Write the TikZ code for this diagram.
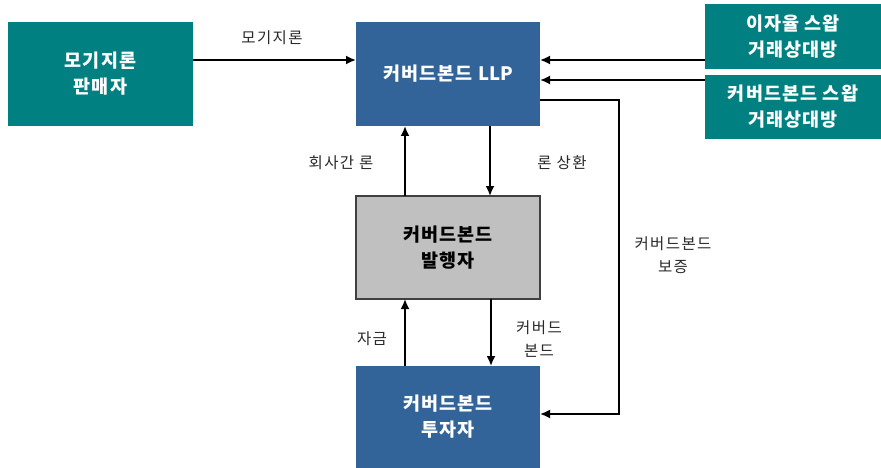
\documentclass[tikz,border=0pt]{standalone}
\usepackage{fontspec}
\setmainfont{Noto Sans CJK KR}
\newfontfamily\boxfont[LetterSpace=6]{Noto Sans CJK KR}
\newfontfamily\lblfont[LetterSpace=9]{Noto Sans CJK KR}
\usetikzlibrary{arrows.meta}
\definecolor{teal1}{RGB}{0,128,128}
\definecolor{blue1}{RGB}{51,100,153}
\definecolor{gray1}{RGB}{192,192,192}
\definecolor{edge1}{RGB}{64,64,64}
\definecolor{txt1}{RGB}{40,40,40}
\tikzset{
  boxt/.style={fill=teal1, text=white, font=\boxfont\fontsize{18.5}{26}\selectfont\bfseries, align=center, inner sep=0pt},
  boxb/.style={fill=blue1, text=white, font=\boxfont\fontsize{18.5}{26}\selectfont\bfseries, align=center, inner sep=0pt},
  boxg/.style={fill=gray1, draw=edge1, line width=1.5pt, text=black, font=\boxfont\fontsize{18.5}{26}\selectfont\bfseries, align=center, inner sep=0pt},
  lbl/.style={text=txt1, font=\lblfont\fontsize{15.5}{23}\selectfont, align=center, inner sep=0pt},
  arr/.style={line width=1.8pt, -{Latex[length=10pt,width=9pt]}}
}
\begin{document}
\begin{tikzpicture}[x=1pt,y=-1pt]
\useasboundingbox (0,0) rectangle (881,468);
\path[boxt] (8,22) rectangle (193,126);
\node[boxt] (seller) at (100.5,74) {모기지론\\판매자};
\path[boxb] (356,22) rectangle (540,126);
\node[boxb] (llp) at (448,74) {커버드본드 {\fontsize{18.5}{26}\selectfont\bfseries\mdseries\bfseries\normalfont\fontsize{18.5}{26}\selectfont\bfseries LLP}};
\path[boxt] (705,4) rectangle (881,69);
\node[boxt] (irs) at (793,36.5) {이자율 스왑\\거래상대방};
\path[boxt] (705,75) rectangle (881,139);
\node[boxt] (cbs) at (793,107) {커버드본드 스왑\\거래상대방};
\path[boxg] (356,196) rectangle (540,299);
\node[boxg, draw=none, fill=none] (iss) at (448,247.5) {커버드본드\\발행자};
\path[boxb] (356,366) rectangle (540,468);
\node[boxb] (inv) at (448,417) {커버드본드\\투자자};

\coordinate (s1) at (193,60);
\coordinate (l1) at (356,60);
\coordinate (r1) at (705,60);
\coordinate (l2) at (540,60);
\coordinate (r2) at (705,80);
\coordinate (l3) at (540,80);
\coordinate (l4) at (540,100);
\coordinate (c1) at (619,100);
\coordinate (c2) at (619,414);
\coordinate (i1) at (540,414);
\coordinate (a1) at (405,196);
\coordinate (a2) at (405,126);
\coordinate (b1) at (490,126);
\coordinate (b2) at (490,196);
\coordinate (a3) at (405,366);
\coordinate (a4) at (405,299);
\coordinate (b3) at (491,299);
\coordinate (b4) at (491,366);

\draw[arr] (s1) -- (l1);
\draw[arr] (r1) -- (l2);
\draw[arr] (r2) -- (l3);
\draw[arr] (l4) -- (c1) -- (c2) -- (i1);
\draw[arr] (a1) -- (a2);
\draw[arr] (b1) -- (b2);
\draw[arr] (a3) -- (a4);
\draw[arr] (b3) -- (b4);

\node[lbl] (t1) at (272,38) {모기지론};
\node[lbl] (t2) at (341,163) {회사간 론};
\node[lbl] (t3) at (562,163) {론 상환};
\node[lbl] (t4) at (673,255) {커버드본드\\보증};
\node[lbl] (t5) at (372,339) {자금};
\node[lbl] (t6) at (539,339) {커버드\\본드};
\end{tikzpicture}
\end{document}
